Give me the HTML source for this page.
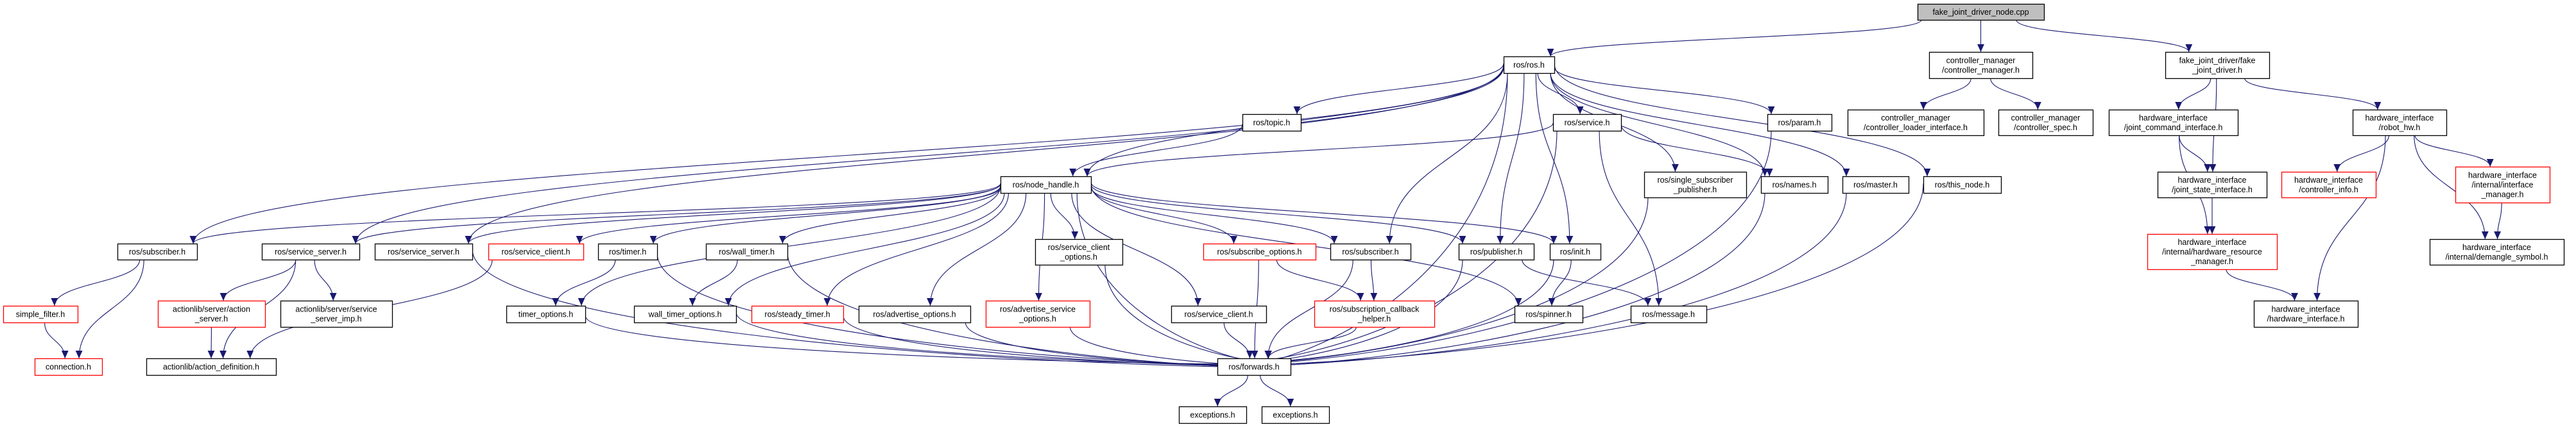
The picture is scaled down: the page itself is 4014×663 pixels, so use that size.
<!DOCTYPE html>
<html><head><meta charset="utf-8"><style>
html,body{margin:0;padding:0;background:#fff;}
svg{display:block;}
text{font-family:"Liberation Sans",sans-serif;font-size:12.5px;fill:#000;}
</style></head><body>
<svg id="g" width="4014" height="663" viewBox="0 0 4014 663" xmlns="http://www.w3.org/2000/svg">
<defs><marker id="ah" viewBox="0 0 10 10" refX="10" refY="5" markerWidth="12" markerHeight="12" markerUnits="userSpaceOnUse" orient="auto"><path d="M0,0.5 L10,5 L0,9.5 z" fill="#191970"/></marker></defs>
<g id="edges" fill="none" stroke="#191970" stroke-width="1.1"></g>
<g id="nodes"></g>
</svg>
<script>
var N={
root:[2988,6,3185,31,["fake_joint_driver_node.cpp"],"g"],
ros:[2343,88,2422,114,["ros/ros.h"]],
cm:[3006,81,3167,122,["controller_manager","/controller_manager.h"]],
fjd:[3374,81,3536,122,["fake_joint_driver/fake","_joint_driver.h"]],
topic:[1936,178,2027,204,["ros/topic.h"]],
service:[2420,178,2526,204,["ros/service.h"]],
param:[2754,178,2854,204,["ros/param.h"]],
cli:[2879,171,3091,211,["controller_manager","/controller_loader_interface.h"]],
cspec:[3114,171,3261,211,["controller_manager","/controller_spec.h"]],
jci:[3286,171,3487,211,["hardware_interface","/joint_command_interface.h"]],
rhw:[3666,171,3812,211,["hardware_interface","/robot_hw.h"]],
nh:[1559,275,1700,301,["ros/node_handle.h"]],
ssp:[2562,268,2721,308,["ros/single_subscriber","_publisher.h"]],
names:[2744,275,2848,301,["ros/names.h"]],
master:[2871,275,2974,301,["ros/master.h"]],
thisn:[2997,275,3118,301,["ros/this_node.h"]],
jsi:[3362,268,3532,308,["hardware_interface","/joint_state_interface.h"]],
cinfo:[3555,268,3702,308,["hardware_interface","/controller_info.h"],"r"],
imgr:[3826,260,3973,316,["hardware_interface","/internal/interface","_manager.h"],"r"],
sub1:[183,380,307,405,["ros/subscriber.h"]],
ss1:[408,380,560,405,["ros/service_server.h"]],
ss2:[584,380,736,405,["ros/service_server.h"]],
scr:[761,380,909,405,["ros/service_client.h"],"r"],
timer:[932,380,1024,405,["ros/timer.h"]],
wtimer:[1100,380,1227,405,["ros/wall_timer.h"]],
sco:[1613,373,1749,413,["ros/service_client","_options.h"]],
subo:[1875,380,2050,405,["ros/subscribe_options.h"],"r"],
sub2:[2073,380,2198,405,["ros/subscriber.h"]],
pub:[2273,380,2390,405,["ros/publisher.h"]],
init:[2415,380,2494,405,["ros/init.h"]],
hrm:[3346,365,3548,420,["hardware_interface","/internal/hardware_resource","_manager.h"],"r"],
dsym:[3786,373,3995,413,["hardware_interface","/internal/demangle_symbol.h"]],
sf:[5,477,121,503,["simple_filter.h"],"r"],
as:[246,469,413,510,["actionlib/server/action","_server.h"],"r"],
ssi:[437,469,611,510,["actionlib/server/service","_server_imp.h"]],
to:[789,477,912,503,["timer_options.h"]],
wto:[988,477,1147,503,["wall_timer_options.h"]],
st:[1171,477,1314,503,["ros/steady_timer.h"],"r"],
ao:[1338,477,1512,503,["ros/advertise_options.h"]],
aso:[1536,469,1698,510,["ros/advertise_service","_options.h"],"r"],
sc:[1825,477,1973,503,["ros/service_client.h"]],
sch:[2048,469,2235,510,["ros/subscription_callback","_helper.h"],"r"],
spin:[2360,477,2466,503,["ros/spinner.h"]],
msg:[2541,477,2659,503,["ros/message.h"]],
hi:[3512,469,3674,510,["hardware_interface","/hardware_interface.h"]],
conn:[54,559,159,585,["connection.h"],"r"],
ad:[228,559,430,585,["actionlib/action_definition.h"]],
fw:[1897,559,2011,585,["ros/forwards.h"]],
ex1:[1837,634,1942,660,["exceptions.h"]],
ex2:[1966,634,2071,660,["exceptions.h"]]
};
var E="root>ros root>cm root>fjd ros>sub1 ros>ss1 ros>ss2 ros>nh ros>topic ros>service ros>param ros>ssp ros>names ros>master ros>thisn ros>sub2 ros>pub ros>init ros>fw "+
"nh>sub1 nh>ss1 nh>ss2 nh>scr nh>timer nh>wtimer nh>to nh>wto nh>st nh>ao nh>aso nh>sco nh>sc nh>fw nh>subo nh>sub2 nh>pub nh>init nh>spin "+
"service>nh service>names service>msg service>fw topic>nh sub1>sf sub1>conn sf>conn ss1>ad ss1>as ss1>ssi as>ad ss2>fw scr>ad timer>to timer>fw wtimer>wto wtimer>fw "+
"to>fw wto>fw st>fw ao>fw aso>fw sco>fw sc>fw subo>fw subo>sch sub2>sch sub2>fw pub>fw pub>msg init>spin init>fw sch>fw ssp>fw names>fw master>fw thisn>fw param>fw fw>ex1 fw>ex2 "+
"cm>cli cm>cspec fjd>jci fjd>jsi fjd>rhw jci>jsi jci>hrm jsi>hrm hrm>hi rhw>cinfo rhw>hi rhw>dsym rhw>imgr imgr>dsym";
var NS="http://www.w3.org/2000/svg";
function el(t,a){var e=document.createElementNS(NS,t);for(var k in a)e.setAttribute(k,a[k]);return e;}
function cl(v,a,b){return Math.max(a,Math.min(b,v));}
var eg=document.getElementById("edges"),ng=document.getElementById("nodes");
E.split(" ").forEach(function(p){if(!p)return;var ab=p.split(">"),s=N[ab[0]],t=N[ab[1]];
 var scx=(s[0]+s[2])/2,tcx=(t[0]+t[2])/2,d;
 if(t[3]<s[1]+5){
   d="M"+(s[0]+5)+","+(s[3]-5)+" L"+t[2]+","+((t[1]+t[3])/2);
 } else if(t[1]<s[3]+2){
   var sx=scx,sy=s[3];d="M"+sx+","+sy+" C"+sx+","+(sy+60)+" "+tcx+","+(t[1]-60)+" "+tcx+","+t[1];
 } else {
   var sw=(s[2]-s[0])/2-6,tw=(t[2]-t[0])/2-6;
   var sx=scx+cl((tcx-scx)*0.15,-sw,sw),sy=s[3];
   var dy=t[1]-s[3],dx=tcx-scx;
   if(Math.abs(dx)>4*dy && (s[2]-s[0])<160){ // start from side
     sx=dx<0?s[0]:s[2]; sy=(s[1]+s[3])/2+(Math.random()*8-4);
   }
   var tx=tcx+cl((scx-tcx)*0.12,-tw,tw),ty=t[1];
   if(ab[1]=="fw" && Math.abs(dx)>250){ // into side of forwards
     tx=dx>0?t[2]:t[0]; ty=(t[1]+t[3])/2+(Math.random()*10-5);
     var mx=(sx+tx)/2;
     d="M"+sx+","+sy+" C"+sx+","+(sy+(ty-sy)*0.7)+" "+(tx+(sx-tx)*0.3)+","+ty+" "+tx+","+ty;
   } else {
     var my=(sy+ty)/2;
     d="M"+sx+","+sy+" C"+sx+","+my+" "+tx+","+my+" "+tx+","+ty;
   }
 }
 eg.appendChild(el("path",{d:d,"marker-end":"url(#ah)"}));
});
for(var k in N){var n=N[k];
 var fill=n[5]=="g"?"#bfbfbf":"#fff",st=n[5]=="r"?"#ff0000":"#000";
 ng.appendChild(el("rect",{x:n[0]+0.5,y:n[1]+0.5,width:n[2]-n[0],height:n[3]-n[1],fill:fill,stroke:st,"stroke-width":1.3}));
 var L=n[4],h=n[3]-n[1],lh=15,y0=n[1]+h/2-(L.length-1)*lh/2+4.5;
 L.forEach(function(s,i){var t=el("text",{x:(n[0]+n[2])/2,y:y0+i*lh,"text-anchor":"middle"});t.textContent=s;ng.appendChild(t);});
}
</script>
</body></html>
